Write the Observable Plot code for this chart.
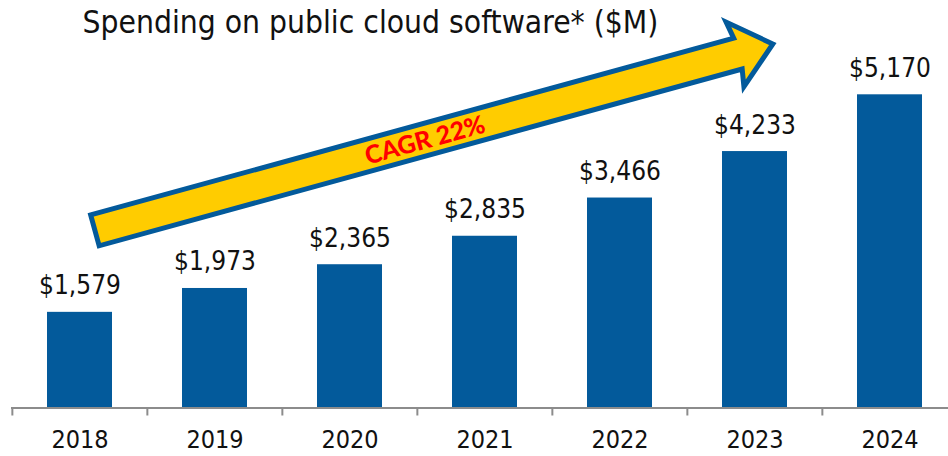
<!DOCTYPE html>
<html>
<head>
<meta charset="utf-8">
<script src="https://cdn.jsdelivr.net/npm/d3@7"></script>
<script src="https://cdn.jsdelivr.net/npm/@observablehq/plot@0.6"></script>
<style>
  html, body { margin: 0; padding: 0; background: #fff; }
  #chart svg { display: block; }
</style>
</head>
<body>
<div id="chart"></div>
<script>
const years = ["2018", "2019", "2020", "2021", "2022", "2023", "2024"];
const values = [1579, 1973, 2365, 2835, 3466, 4233, 5170];
const valueLabels = ["$1,579", "$1,973", "$2,365", "$2,835", "$3,466", "$4,233", "$5,170"];
const title = "Spending on public cloud software* ($M)";
const cagrLabel = "CAGR 22%";

const data = years.map((year, i) => ({year, value: values[i], label: valueLabels[i]}));

const BLUE = "#035a9b";
const YELLOW = "#ffcc00";
const FONT = "'DejaVu Sans Condensed', 'DejaVu Sans', sans-serif";

const W = 948, H = 456;
const xStart = 11, xEnd = 958;
const step = (xEnd - xStart) / years.length;

function arrowMark(index, scales, values, dims) {
  const {x, y} = scales;
  const bw = x.bandwidth ? x.bandwidth() : 65;
  const x0 = x("2018") + bw / 2 + 13, y0 = y(2913);
  const x1 = x("2023") + bw / 2 + 22, y1 = y(6017);
  const dxv = x1 - x0, dyv = y1 - y0, L = Math.hypot(dxv, dyv);
  const ux = dxv / L, uy = dyv / L, nx = -uy, ny = ux;
  const P = (a, b) => [x0 + ux * a + nx * b, y0 + uy * a + ny * b];
  const sw = 16, hw = 33.5;
  const tip = L - 3.8, hb = L - 40;
  const pts = [P(2.5, -sw), P(hb, -sw), P(hb - 3, -hw), P(tip, 0), P(hb - 3, hw), P(hb, sw), P(2.5, sw)];
  const ns = "http://www.w3.org/2000/svg";
  const g = document.createElementNS(ns, "g");
  const path = document.createElementNS(ns, "path");
  path.setAttribute("d", "M" + pts.map(p => p.join(",")).join("L") + "Z");
  path.setAttribute("fill", YELLOW);
  path.setAttribute("stroke", BLUE);
  path.setAttribute("stroke-width", 5);
  path.setAttribute("stroke-linejoin", "miter");
  path.setAttribute("stroke-miterlimit", 10);
  g.appendChild(path);
  const c = P(L * 0.486, 0);
  const ang = Math.atan2(dyv, dxv) * 180 / Math.PI;
  const t = document.createElementNS(ns, "text");
  t.setAttribute("transform", `translate(${c[0]},${c[1]}) rotate(${ang})`);
  t.setAttribute("text-anchor", "middle");
  t.setAttribute("dy", "0.36em");
  t.setAttribute("fill", "#ff0000");
  t.setAttribute("font-family", "Lato, 'Open Sans', sans-serif");
  t.setAttribute("font-weight", "900");
  t.setAttribute("font-size", 25);
  t.textContent = cagrLabel;
  g.appendChild(t);
  return g;
}

const chart = Plot.plot({
  width: W,
  height: H,
  marginLeft: xStart,
  marginRight: 0,
  marginTop: 94.3,
  marginBottom: 48.5,
  style: {fontFamily: FONT, background: "#fff"},
  x: {domain: years, range: [xStart, xEnd], paddingInner: 0.517, paddingOuter: 0.2585, axis: null, label: null},
  y: {domain: [0, 5170], axis: null, label: null},
  marks: [
    Plot.barY(data, {x: "year", y: "value", fill: BLUE}),
    Plot.ruleY([0], {stroke: "#8c8c8c", strokeWidth: 2}),
    Plot.axisX({tickSize: 8, tickFormat: () => "", label: null, dx: -step / 2, stroke: "#8c8c8c", strokeWidth: 2}),
    Plot.axisX({tickSize: 0, tickPadding: 22, label: null, fontSize: 25, fill: "#111", fontFamily: FONT}),
    arrowMark,
    Plot.text(data, {x: "year", y: "value", text: "label", dy: -18, lineAnchor: "bottom", fontSize: 26, fill: "#111", fontFamily: FONT}),
    Plot.text([title], {frameAnchor: "top-left", dx: 82 - xStart, dy: -84, lineAnchor: "top", textAnchor: "start", fontSize: 31.5, fill: "#111", fontFamily: FONT})
  ]
});
document.getElementById("chart").appendChild(chart);
</script>
</body>
</html>
